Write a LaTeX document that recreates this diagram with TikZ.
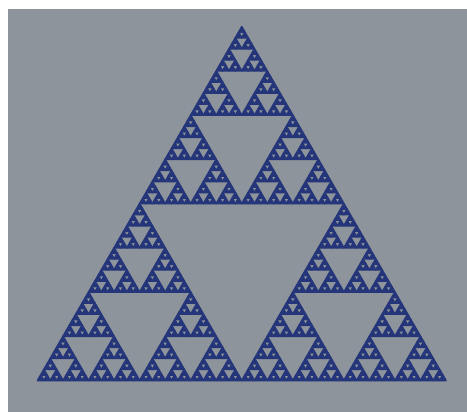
\documentclass[tikz,border=0pt]{standalone}
\usetikzlibrary{backgrounds}
\definecolor{paper}{HTML}{8E949B}
\definecolor{ink}{HTML}{24357A}

% one level of the gasket: three half-size copies in the unit triangle
\newcommand\sierp[1]{%
  \ifnum\numexpr#1\relax=0
    \fill[sier] (0,0) -- (1,0) -- (60:1) -- cycle;
  \else
    \begin{scope}[scale=.5]\sierp{#1-1}\end{scope}%
    \begin{scope}[shift={(.5,0)},scale=.5]\sierp{#1-1}\end{scope}%
    \begin{scope}[shift={(60:.5)},scale=.5]\sierp{#1-1}\end{scope}%
  \fi}

\begin{document}
\begin{tikzpicture}[
  x=1pt,y=1pt,
  sier/.style={fill=ink,draw=ink,line width=1.6pt,line join=round}
]
\useasboundingbox (0,0) rectangle (467,412);
\fill[paper] (8,0) rectangle (467,403);
\begin{scope}[shift={(37.5,31.5)},scale=408.5]
  \sierp{6}
\end{scope}
\end{tikzpicture}
\end{document}
